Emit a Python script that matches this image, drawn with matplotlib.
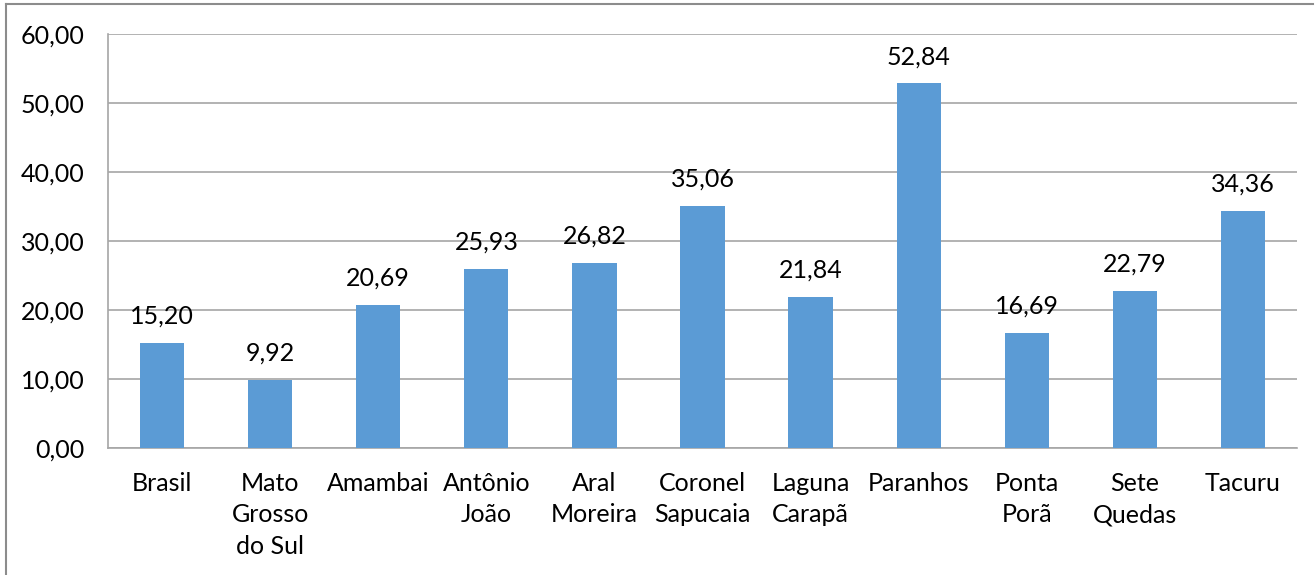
import matplotlib
matplotlib.use("Agg")
import matplotlib.pyplot as plt
from matplotlib.lines import Line2D

categories = ["Brasil", "Mato\nGrosso\ndo Sul", "Amambai", "Antônio\nJoão", "Aral\nMoreira",
              "Coronel\nSapucaia", "Laguna\nCarapã", "Paranhos", "Ponta\nPorã", "Sete\nQuedas", "Tacuru"]
values = [15.20, 9.92, 20.69, 25.93, 26.82, 35.06, 21.84, 52.84, 16.69, 22.79, 34.36]
yticks = [0, 10, 20, 30, 40, 50, 60]

def br(v):
    return f"{v:.2f}".replace(".", ",")

plt.rcParams['font.family'] = ['Lato', 'DejaVu Sans']
FS = 18
fig = plt.figure(figsize=(13.15, 5.75), dpi=100)
W, H = 1315, 575
ax = fig.add_axes([108 / W, 1 - 448 / H, (1297 - 108) / W, (448 - 34) / H])

x = list(range(len(categories)))
ax.bar(x, values, width=0.41, color="#5B9BD5", zorder=3)
for xi, v in zip(x, values):
    ax.annotate(br(v), (xi, v), xytext=(0, 11), textcoords="offset points",
                ha="center", va="bottom", fontsize=FS, color="black")

ax.set_xlim(-0.5, len(categories) - 0.5)
ax.set_ylim(0, 60)
ax.set_yticks(yticks)
ax.set_yticklabels([br(t) for t in yticks], fontsize=FS)
ax.set_xticks(x)
ax.set_xticklabels(categories, fontsize=FS, linespacing=1.45, va="top")
ax.tick_params(axis="both", length=0)
ax.tick_params(axis="y", pad=17)
ax.tick_params(axis="x", pad=17)
ax.grid(axis="y", color="#A6A6A6", linewidth=1.2, zorder=0)
for s in ["top", "right"]:
    ax.spines[s].set_visible(False)
for s in ["left", "bottom"]:
    ax.spines[s].set_color("#A6A6A6")
    ax.spines[s].set_linewidth(1.2)

# outer chart frame
fig.add_artist(Line2D([6 / W, 1313 / W], [1 - 4 / H, 1 - 4 / H], color="#8C8C8C", linewidth=1.5))
fig.add_artist(Line2D([6 / W, 6 / W], [1 - 4 / H, 0], color="#8C8C8C", linewidth=1.5))

fig.savefig("out.png", dpi=100)
